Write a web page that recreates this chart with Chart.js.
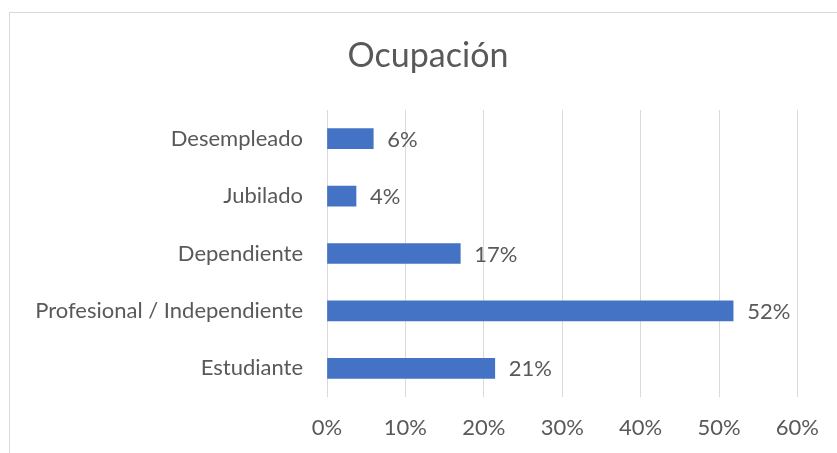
<!DOCTYPE html>
<html>
<head>
<meta charset="utf-8">
<script src="https://cdn.jsdelivr.net/npm/chart.js@4"></script>
<style>
  html, body { margin: 0; padding: 0; background: #fff; overflow: hidden; }
  #wrap { position: relative; width: 837px; height: 453px; }
  #frame { position: absolute; left: 9px; top: 12px; width: 900px; height: 500px;
           border: 1px solid #d9d9d9; pointer-events: none; }
</style>
</head>
<body>
<div id="wrap">
  <canvas id="chart" width="837" height="453"></canvas>
  <div id="frame"></div>
</div>
<script>
const title = "Ocupación";
const categories = ["Desempleado", "Jubilado", "Dependiente", "Profesional / Independiente", "Estudiante"];
const shares = [5.9, 3.7, 17.0, 51.8, 21.4];
const xTicks = [0, 10, 20, 30, 40, 50, 60];

const textColor = "#595959";
const fontFamily = "Lato, 'Open Sans', sans-serif";

// title centred on the framed chart (which runs past the right edge)
const chartTitle = {
  id: "chartTitle",
  afterDraw(chart) {
    const ctx = chart.ctx;
    ctx.save();
    ctx.font = "34px " + fontFamily;
    ctx.fillStyle = textColor;
    ctx.textAlign = "center";
    ctx.textBaseline = "middle";
    ctx.fillText(title, 428, 56);
    ctx.restore();
  }
};

// draw the value next to each bar
const barLabels = {
  id: "barLabels",
  afterDatasetsDraw(chart) {
    const ctx = chart.ctx;
    const meta = chart.getDatasetMeta(0);
    ctx.save();
    ctx.font = "22px " + fontFamily;
    ctx.fillStyle = textColor;
    ctx.textAlign = "left";
    ctx.textBaseline = "middle";
    meta.data.forEach((bar, i) => {
      ctx.fillText(Math.round(shares[i]) + "%", bar.x + 14, bar.y + 1);
    });
    ctx.restore();
  }
};

new Chart(document.getElementById("chart"), {
  type: "bar",
  data: {
    labels: categories,
    datasets: [{
      data: shares,
      backgroundColor: "#4472C4",
      barThickness: 20
    }]
  },
  options: {
    indexAxis: "y",
    responsive: false,
    animation: false,
    layout: { padding: { left: 0, right: 36, top: 110, bottom: 0 } },
    plugins: {
      legend: { display: false },
      tooltip: { enabled: false },
      title: { display: false }
    },
    scales: {
      x: {
        min: 0,
        max: 60,
        afterBuildTicks: axis => { axis.ticks = xTicks.map(v => ({ value: v })); },
        afterFit: axis => { axis.height = 56; },
        grid: { color: "#d9d9d9", lineWidth: 1, drawTicks: false },
        border: { display: false },
        ticks: {
          color: textColor,
          font: { family: fontFamily, size: 22 },
          padding: 18,
          callback: v => v + "%"
        }
      },
      y: {
        afterFit: axis => { axis.width = 327; },
        grid: { display: false, drawTicks: false },
        border: { display: false },
        ticks: {
          color: textColor,
          font: { family: fontFamily, size: 22 },
          padding: 24
        }
      }
    }
  },
  plugins: [barLabels, chartTitle]
});
</script>
</body>
</html>
